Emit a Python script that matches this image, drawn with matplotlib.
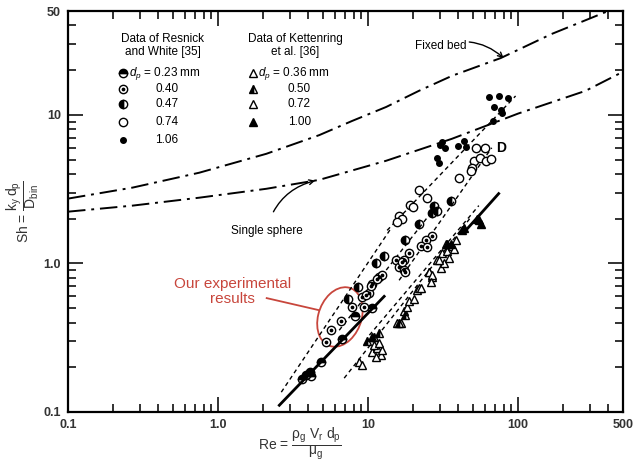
import matplotlib
matplotlib.use('Agg')
import matplotlib.pyplot as plt
from matplotlib.patches import Ellipse
from matplotlib.ticker import FixedLocator, FixedFormatter, NullFormatter

plt.rcParams['font.family'] = ['Liberation Sans', 'DejaVu Sans']
plt.rcParams['mathtext.fontset'] = 'custom'
plt.rcParams['mathtext.rm'] = 'Liberation Sans'
plt.rcParams['mathtext.it'] = 'Liberation Sans:italic'

# ---------------- data ----------------
# Correlation curves
fixed_re = [0.1, 0.27, 0.75, 2.1, 4.72, 7.83, 13.2, 21.8, 36.2, 76.5, 167, 399]
fixed_sh = [2.73, 3.24, 4.08, 5.47, 7.3, 9.1, 11.3, 14.5, 18.3, 24.1, 35.0, 50.0]
sphere_re = [0.1, 0.27, 0.75, 2.1, 4.72, 13.2, 36.2, 100, 281, 500]
sphere_sh = [2.23, 2.45, 2.77, 3.18, 3.65, 4.91, 6.9, 10.2, 14.5, 19.5]

# Resnick and White data
re_023 = [3.64, 3.87, 4.18, 4.12, 4.88, 6.71, 8.2, 10.7]
sh_023 = [0.166, 0.177, 0.175, 0.185, 0.217, 0.309, 0.44, 0.50]
re_040 = [26.6, 24.3, 22.5, 24.7, 18.7, 17.3, 15.4, 16.1, 17.3, 11.8, 10.6, 10.2,
          9.12, 7.83, 6.62, 5.68, 5.26, 9.7, 9.4, 12.4, 11.5, 10.5, 16.8, 17.6]
sh_040 = [1.52, 1.43, 1.32, 1.28, 1.17, 1.06, 1.05, 0.94, 0.90, 0.81, 0.73, 0.63,
          0.59, 0.51, 0.41, 0.355, 0.295, 0.61, 0.51, 0.83, 0.79, 0.71, 1.02, 0.87]
re_047 = [7.36, 8.59, 11.3, 12.8, 17.6, 21.8, 27.5, 28.7, 35.6, 26.6]
sh_047 = [0.58, 0.69, 1.0, 1.13, 1.43, 1.85, 2.45, 2.27, 2.65, 2.20]
re_074 = [52.2, 59.9, 50.6, 55.5, 60.8, 65.6, 49.1, 48.3, 40.3, 21.8, 19.0, 19.9,
          16.1, 16.8, 15.6, 24.7]
sh_074 = [6.01, 6.01, 4.91, 5.14, 4.91, 5.07, 4.41, 4.21, 3.78, 3.14, 2.49, 2.38,
          2.10, 2.00, 1.91, 2.77]
re_106 = [63.7, 74.2, 85.2, 68.7, 76.5, 77.6, 67.7, 31.0, 32.5, 28.7, 29.6, 39.6,
          43.4, 44.8, 30.1]
sh_106 = [13.2, 13.4, 13.0, 11.3, 10.8, 10.3, 9.12, 6.59, 6.01, 5.14, 4.76, 6.19,
          6.69, 6.10, 6.29]

# Kettenring et al. data
re_036 = [8.71, 9.12, 10.6, 11.5, 12.2, 11.3, 12.4, 11.0, 11.8, 15.6, 16.6, 17.3, 18.2]
sh_036 = [0.217, 0.207, 0.253, 0.269, 0.241, 0.234, 0.261, 0.282, 0.290, 0.40,
          0.395, 0.48, 0.51]
re_050 = [25.4, 26.6, 10.6, 9.85, 16.1, 11.0, 11.8, 17.6]
sh_050 = [0.87, 0.81, 0.32, 0.30, 0.40, 0.32, 0.34, 0.45]
re_072 = [18.7, 20.2, 21.2, 21.8, 25.4, 26.6, 26.2, 28.7, 31.0, 33.5, 36.2, 33.0,
          38.5, 30.6, 32.0, 34.5, 29.6, 37.2, 22.5]
sh_072 = [0.56, 0.58, 0.66, 0.68, 0.87, 0.83, 0.75, 1.05, 1.17, 1.22, 1.32, 1.36,
          1.43, 0.93, 1.0, 1.08, 1.05, 1.26, 0.68]
re_100 = [42.2, 53.0, 56.3, 54.7, 43.4, 35.6, 33.5]
sh_100 = [1.67, 2.00, 1.85, 1.95, 1.72, 1.36, 1.36]

# fitted lines
exp1_re, exp1_sh = [2.56, 12.8], [0.111, 0.60]
exp2_re, exp2_sh = [43.4, 74.2], [1.61, 2.95]
dash_lines = [
    ([2.64, 14.2], [0.136, 1.72]),
    ([13.4, 96.2], [1.67, 13.4]),
    ([16.1, 66.7], [0.77, 6.0]),
    ([6.42, 25.4], [0.355, 2.10]),
    ([6.93, 48.3], [0.169, 2.04]),
    ([10.2, 54.7], [0.329, 2.45]),
]

x_ticks = [0.1, 1, 10, 100, 500]
x_labels = ['0.1', '1.0', '10', '100', '500']
y_ticks = [0.1, 1, 10, 50]
y_labels = ['0.1', '1.0', '10', '50']

rw_labels = [r'$d_p$ = 0.23 mm', '0.40', '0.47', '0.74', '1.06']
ke_labels = [r'$d_p$ = 0.36 mm', '0.50', '0.72', '1.00']

# ---------------- figure ----------------
fig = plt.figure(figsize=(6.36, 4.70), dpi=100)
ax = fig.add_axes([68/636, 58/470, 555/636, 401/470])
ax.set_xscale('log')
ax.set_yscale('log')
ax.set_xlim(0.1, 500)
ax.set_ylim(0.1, 50)

for s in ax.spines.values():
    s.set_linewidth(1.6)

ax.xaxis.set_major_locator(FixedLocator(x_ticks))
ax.xaxis.set_major_formatter(FixedFormatter(x_labels))
ax.yaxis.set_major_locator(FixedLocator(y_ticks))
ax.yaxis.set_major_formatter(FixedFormatter(y_labels))
ax.xaxis.set_minor_formatter(NullFormatter())
ax.yaxis.set_minor_formatter(NullFormatter())
ax.tick_params(which='both', direction='in', top=True, right=True, width=1.3,
               labelsize=9, colors='#222222')
ax.tick_params(which='major', length=11, pad=5)
ax.tick_params(which='minor', length=6)
for lab in ax.get_xticklabels() + ax.get_yticklabels():
    lab.set_fontweight('bold')
    lab.set_color('#333333')

# correlation curves
ax.plot(fixed_re, fixed_sh, color='black', lw=1.4, ls=(0, (9, 3, 1.5, 3)))
ax.plot(sphere_re, sphere_sh, color='black', lw=1.4, ls=(0, (9, 3, 1.5, 3)))

# fitted lines
for xr, yr in dash_lines:
    ax.plot(xr, yr, color='black', lw=1.0, ls=(0, (3, 2.5)))
ax.plot(exp1_re, exp1_sh, color='black', lw=2.0)
ax.plot(exp2_re, exp2_sh, color='black', lw=2.0)

ms = 6
mk = dict(ls='none', color='black', mec='black', mew=1.0)
ax.plot(re_023, sh_023, marker='o', ms=ms, fillstyle='top', mfc='black', **mk)
ax.plot(re_040, sh_040, marker='o', ms=ms, mfc='white', **mk)
ax.plot(re_040, sh_040, marker='o', ms=1.7, ls='none', color='black')
ax.plot(re_047, sh_047, marker='o', ms=ms, fillstyle='left', mfc='black', **mk)
ax.plot(re_074, sh_074, marker='o', ms=ms, mfc='white', **mk)
ax.plot(re_106, sh_106, marker='o', ms=4, mfc='black', **mk)
ax.plot(re_036, sh_036, marker='^', ms=ms, mfc='white', **mk)
ax.plot(re_050, sh_050, marker='^', ms=ms, fillstyle='left', mfc='black', **mk)
ax.plot(re_072, sh_072, marker='^', ms=ms, mfc='white', **mk)
ax.plot(re_100, sh_100, marker='^', ms=ms, mfc='black', **mk)

# legends (as text blocks)
tfs = 8.5
ax.text(0.171, 0.914, 'Data of Resnick\nand White [35]', transform=ax.transAxes,
        ha='center', va='center', fontsize=tfs, linespacing=1.15)
ax.text(0.409, 0.914, 'Data of Kettenring\net al. [36]', transform=ax.transAxes,
        ha='center', va='center', fontsize=tfs, linespacing=1.15)
rw_y = [0.845, 0.806, 0.767, 0.723, 0.679]
rw_styles = [dict(marker='o', fillstyle='top', mfc='black', ms=ms),
             dict(marker='o', mfc='white', ms=ms),
             dict(marker='o', fillstyle='left', mfc='black', ms=ms),
             dict(marker='o', mfc='white', ms=ms),
             dict(marker='o', mfc='black', ms=4)]
for i, (yy, st, lab) in enumerate(zip(rw_y, rw_styles, rw_labels)):
    ax.plot([0.099], [yy], transform=ax.transAxes, ls='none', color='black',
            mec='black', mew=1.0, **st)
    if i == 1:
        ax.plot([0.099], [yy], transform=ax.transAxes, marker='o', ms=1.7, color='black')
    xx = 0.110 if i == 0 else 0.157
    ax.text(xx, yy, lab, transform=ax.transAxes, ha='left', va='center', fontsize=tfs)
ke_styles = [dict(marker='^', mfc='white'),
             dict(marker='^', fillstyle='left', mfc='black'),
             dict(marker='^', mfc='white'),
             dict(marker='^', mfc='black')]
for i, (yy, st, lab) in enumerate(zip(rw_y, ke_styles, ke_labels)):
    ax.plot([0.333], [yy], transform=ax.transAxes, ls='none', color='black',
            mec='black', mew=1.0, ms=ms, **st)
    xx = 0.343 if i == 0 else 0.396
    ax.text(xx, yy, lab, transform=ax.transAxes, ha='left', va='center', fontsize=tfs)

# curve labels
ax.annotate('Fixed bed', xy=(80.1, 24.1), xytext=(30.5, 29.0), fontsize=tfs,
            ha='center', va='center',
            arrowprops=dict(arrowstyle='->', color='black', lw=1.0,
                            connectionstyle='arc3,rad=-0.3', shrinkA=28, shrinkB=0))
ax.annotate('Single sphere', xy=(4.44, 3.61), xytext=(2.1, 1.66), fontsize=tfs,
            ha='center', va='center',
            arrowprops=dict(arrowstyle='->', color='black', lw=1.0,
                            connectionstyle='arc3,rad=-0.3', shrinkA=8, shrinkB=0))
ax.text(70.9, 6.0, 'D', fontsize=10, fontweight='bold', ha='left', va='center')

# experimental results annotation
red = '#c8463c'
ax.add_patch(Ellipse((0.490, 0.237), 0.079, 0.150, angle=-10, transform=ax.transAxes,
                     fill=False, ec=red, lw=1.3))
ax.text(0.297, 0.300, 'Our experimental\nresults', transform=ax.transAxes, color=red,
        fontsize=11, ha='center', va='center', linespacing=1.1)
ax.plot([0.358, 0.452], [0.284, 0.254], transform=ax.transAxes, color=red, lw=1.3)

# axis labels
ax.set_ylabel(r'Sh = $\dfrac{\mathrm{k_y\,d_p}}{\mathrm{D_{bin}}}$',
              fontsize=10, color='#333333')
ax.yaxis.set_label_coords(-0.048, 0.50)
ax.set_xlabel(r'Re = $\dfrac{\mathrm{\rho_g\ V_r\ d_p}}{\mathrm{\mu_g}}$',
              fontsize=10, color='#333333')
ax.xaxis.set_label_coords(0.418, -0.035)
ax.xaxis.label.set_va('top')

fig.savefig('out.png', dpi=100)
